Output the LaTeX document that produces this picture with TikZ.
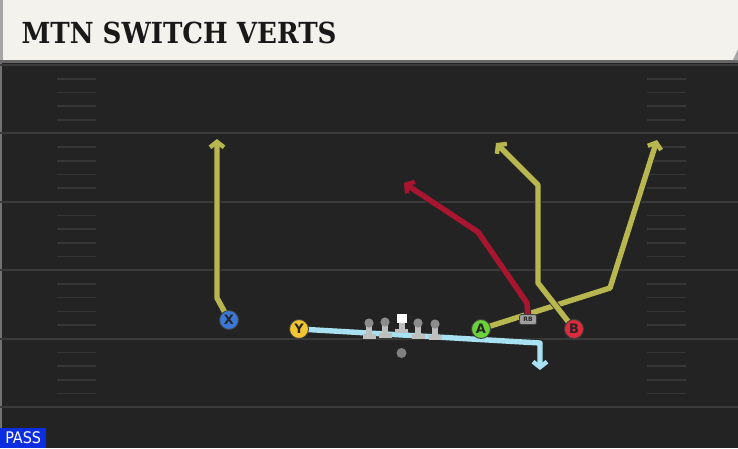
\documentclass[tikz,border=0pt]{standalone}
\usepackage{fontspec}
\setsansfont{DejaVu Sans}
\newfontfamily\titlefont{DejaVu Serif Condensed}
\newfontfamily\passfont{DejaVu Sans Condensed}
\usetikzlibrary{arrows.meta}
\pgfdeclarelayer{field}
\pgfdeclarelayer{routes}
\pgfsetlayers{field,routes,main}

\definecolor{fieldbg}{HTML}{232323}
\definecolor{yardgray}{HTML}{3A3A3A}
\definecolor{hashgray}{HTML}{363636}
\definecolor{bannercream}{HTML}{F4F2EC}
\definecolor{routeyellow}{HTML}{B8B64F}
\definecolor{routered}{HTML}{A9142E}
\definecolor{routeblue}{HTML}{A8E2F2}
\definecolor{xblue}{HTML}{3A78D8}
\definecolor{yyellow}{HTML}{F2C531}
\definecolor{agreen}{HTML}{6BD13A}
\definecolor{bred}{HTML}{E02A3B}
\definecolor{passblue}{HTML}{0B2EE0}

\tikzset{
  yardline/.style={yardgray, line width=2pt},
  hashmark/.style={hashgray, line width=1.6pt},
  route/.style={line width=5.4pt, line join=round,
    -{Straight Barb[length=5.5pt, width=14pt, line width=4.4pt]},
    preaction={draw=black!85, line width=7pt,
      -{Straight Barb[length=5.5pt, width=14pt, line width=6pt]}}},
  player/.style={circle, draw=black!75, line width=0.9pt, minimum size=19pt, inner sep=0pt,
    text=black!85, font=\sffamily\bfseries\fontsize{13}{13}\selectfont},
  rbtag/.style={rounded corners=2pt, draw=black!75, fill=black!38, line width=0.7pt,
    minimum width=17pt, minimum height=10pt, inner sep=0pt, text=black!85,
    font=\sffamily\bfseries\fontsize{6}{6}\selectfont},
  lineman/.style={fill=black!25},
}

\begin{document}
\begin{tikzpicture}[x=1pt, y=-1pt]
  \useasboundingbox (0,0) rectangle (738,448);

  % field, yard lines and hashes
  \begin{pgfonlayer}{field}
    \fill[fieldbg] (0,0) rectangle (738,448);
    \fill[black!55] (0,60) rectangle (2,448);
    \foreach \yl in {65,133.4,201.8,270.2,338.6,407}
      \draw[yardline] (0,\yl) -- (738,\yl);
    \foreach \yl in {65,133.4,201.8,270.2,338.6} {
      \foreach \k in {1,...,4} {
        \draw[hashmark] (57,\yl+13.7*\k) -- (96,\yl+13.7*\k);
        \draw[hashmark] (647,\yl+13.7*\k) -- (686,\yl+13.7*\k);
      }
    }
    % banner
    \fill[black!60] (0,60) rectangle (738,62.5);
    \fill[black!35] (0,0) rectangle (3,60);
    \fill[bannercream] (3,0) rectangle (738,60);
    \fill[black!35] (733,60) -- (738,49) -- (738,60) -- cycle;
  \end{pgfonlayer}

  \node[anchor=west, text=black!90, font=\titlefont\bfseries\fontsize{29}{29}\selectfont] (title) at (18,33) {MTN SWITCH VERTS};

  % players
  \node[player, fill=xblue] (X) at (229,320) {X};
  \node[player, fill=yyellow] (Y) at (299,329) {Y};
  \node[player, fill=agreen] (A) at (481,329) {A};
  \node[player, fill=bred] (B) at (574,329) {B};
  \node[rbtag] (RB) at (528,319.5) {RB};
  \node[circle, fill=black!50, minimum size=10pt, inner sep=0pt] (QB) at (401.5,353) {};

  % line
  \foreach \lx/\ly in {369/323, 385/322, 418/323, 435/324} {
    \fill[lineman] (\lx-3,\ly+2) rectangle (\lx+3,\ly+12);
    \fill[lineman] (\lx-6.5,\ly+11) rectangle (\lx+6.5,\ly+15.5);
    \fill[black!45] (\lx,\ly) circle[radius=4.6];
  }
  \fill[lineman] (398.5,322) rectangle (404.5,330);
  \fill[lineman] (395,329) rectangle (408,333);
  \fill[white] (396.5,313.5) rectangle (406.5,323);

  % route ends
  \coordinate (Xend) at (217,139);
  \coordinate (Aend) at (657,140);
  \coordinate (Bend) at (496,143);
  \coordinate (RBend) at (404,183);
  \coordinate (Yend) at (540,370);

  \begin{pgfonlayer}{routes}
    \draw[route, routeyellow] (X.center) -- (217,298) -- (Xend);
    \draw[route, routeyellow] (A.center) -- (610,288) -- (Aend);
    \draw[route, routeyellow] (B.center) -- (538,283) -- (538,185) -- (Bend);
    \draw[route, routered] (RB.center) -- (527,303) -- (478,232) -- (RBend);
    \draw[route, routeblue] (Y.center) -- (540,343) -- (Yend);
  \end{pgfonlayer}

  \node[anchor=south west, fill=passblue, text=white, minimum width=46pt, minimum height=20pt,
    inner sep=0pt, font=\passfont\fontsize{16}{16}\selectfont] (pass) at (0,448) {PASS};
\end{tikzpicture}
\end{document}
